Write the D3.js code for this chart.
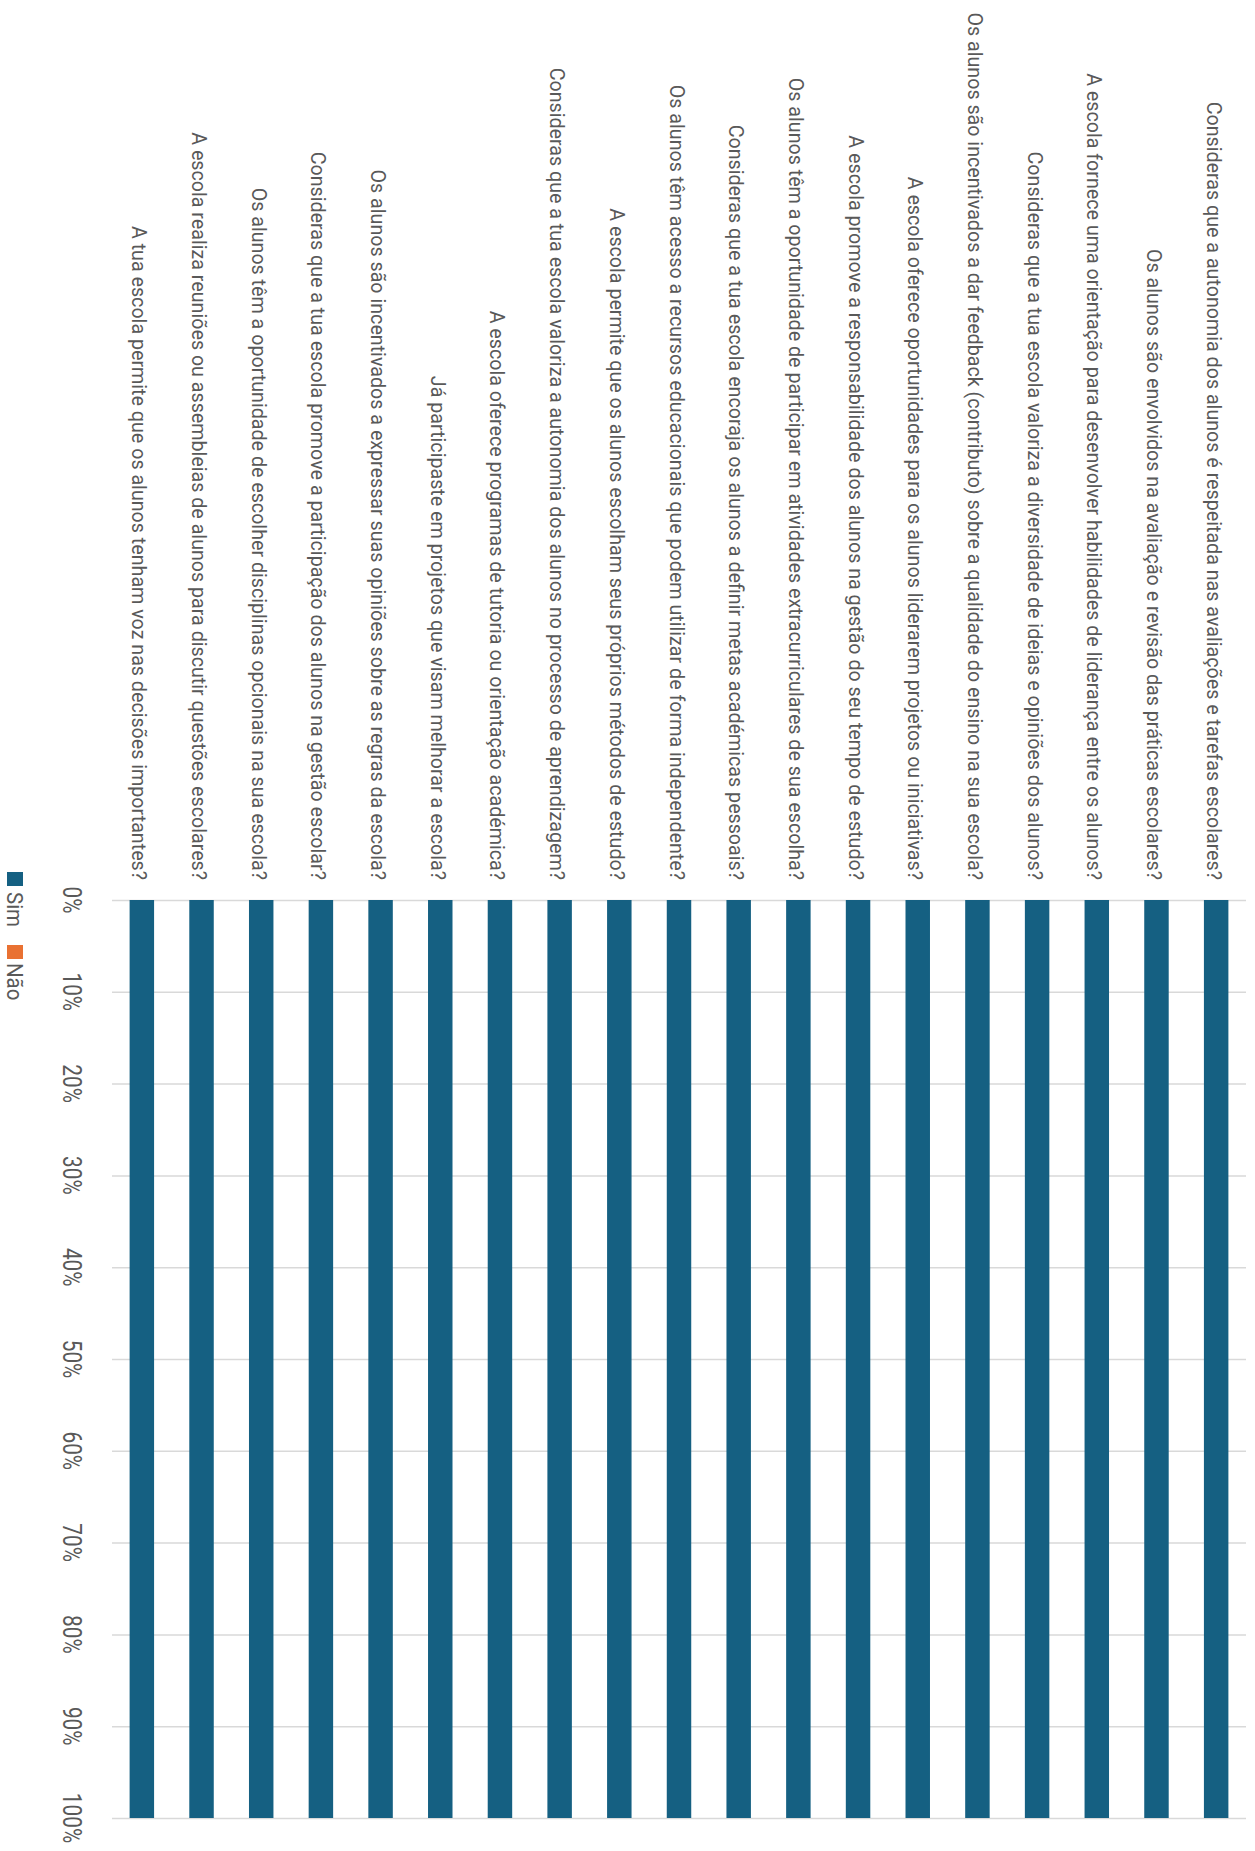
<!DOCTYPE html>
<html>
<head>
<meta charset="utf-8">
<script src="https://cdn.jsdelivr.net/npm/d3@7"></script>
<style>
  html, body { margin: 0; padding: 0; background: #ffffff; }
  svg { display: block; }
  text { font-family: Roboto, "Noto Sans", sans-serif; fill: #595959; }
</style>
</head>
<body>
<svg id="chart" width="1255" height="1851"></svg>
<script>
// Survey questions (top to bottom in the horizontal layout)
const categories = [
  "Consideras que a autonomia dos alunos é respeitada nas avaliações e tarefas escolares?",
  "Os alunos são envolvidos na avaliação e revisão das práticas escolares?",
  "A escola fornece uma orientação para desenvolver habilidades de liderança entre os alunos?",
  "Consideras que a tua escola valoriza a diversidade de ideias e opiniões dos alunos?",
  "Os alunos são incentivados a dar feedback (contributo) sobre a qualidade do ensino na sua escola?",
  "A escola oferece oportunidades para os alunos liderarem projetos ou iniciativas?",
  "A escola promove a responsabilidade dos alunos na gestão do seu tempo de estudo?",
  "Os alunos têm a oportunidade de participar em atividades extracurriculares de sua escolha?",
  "Consideras que a tua escola encoraja os alunos a definir metas académicas pessoais?",
  "Os alunos têm acesso a recursos educacionais que podem utilizar de forma independente?",
  "A escola permite que os alunos escolham seus próprios métodos de estudo?",
  "Consideras que a tua escola valoriza a autonomia dos alunos no processo de aprendizagem?",
  "A escola oferece programas de tutoria ou orientação académica?",
  "Já participaste em projetos que visam melhorar a escola?",
  "Os alunos são incentivados a expressar suas opiniões sobre as regras da escola?",
  "Consideras que a tua escola promove a participação dos alunos na gestão escolar?",
  "Os alunos têm a oportunidade de escolher disciplinas opcionais na sua escola?",
  "A escola realiza reuniões ou assembleias de alunos para discutir questões escolares?",
  "A tua escola permite que os alunos tenham voz nas decisões importantes?"
];

// Share of answers per question (percent)
const simValues = [100, 100, 100, 100, 100, 100, 100, 100, 100, 100, 100, 100, 100, 100, 100, 100, 100, 100, 100];
const naoValues = [0, 0, 0, 0, 0, 0, 0, 0, 0, 0, 0, 0, 0, 0, 0, 0, 0, 0, 0];

const seriesNames = ["Sim", "Não"];
const seriesColors = ["#156082", "#E97132"];
const tickValues = [0, 10, 20, 30, 40, 50, 60, 70, 80, 90, 100];
const tickLabels = ["0%", "10%", "20%", "30%", "40%", "50%", "60%", "70%", "80%", "90%", "100%"];

const rows = categories.map((c, i) => ({ cat: c, "Sim": simValues[i], "Não": naoValues[i] }));

const svg = d3.select("#chart");
const pageW = 1255;

// The chart is laid out as a horizontal stacked bar chart, then turned a quarter
// turn clockwise so the questions read from top to bottom.
const g = svg.append("g").attr("transform", `translate(${pageW},0) rotate(90)`);

const plotTop = 9, plotBottom = 1143;
const x = d3.scaleLinear().domain([0, 100]).range([900, 1818]);
const y = d3.scaleBand().domain(categories).range([plotTop, plotBottom])
  .paddingInner(0.59).paddingOuter(0.295);
const color = d3.scaleOrdinal().domain(seriesNames).range(seriesColors);

// Gridlines
const grid = g.append("g")
  .attr("transform", `translate(0,${plotBottom})`)
  .call(d3.axisBottom(x).tickValues(tickValues).tickSize(-(plotBottom - plotTop)).tickFormat(""));
grid.select(".domain").remove();
grid.selectAll(".tick line").attr("stroke", "#d9d9d9").attr("stroke-width", 1.5);

// Value axis labels
const tickG = g.append("g");
tickG.selectAll("text").data(tickValues).join("text")
  .attr("transform", (d) => `translate(${x(d)},${1192}) scale(0.8,1)`)
  .attr("text-anchor", "middle")
  .attr("font-size", 26)
  .text((d, i) => tickLabels[i]);

// Stacked bars
const stacked = d3.stack().keys(seriesNames)(rows);
g.append("g").selectAll("g").data(stacked).join("g")
  .attr("fill", (s) => color(s.key))
  .selectAll("rect").data((s) => s).join("rect")
  .attr("x", (d) => x(d[0]))
  .attr("width", (d) => Math.max(0, x(d[1]) - x(d[0])))
  .attr("y", (d) => y(d.data.cat))
  .attr("height", y.bandwidth());

// Question labels
g.append("g").selectAll("text").data(categories).join("text")
  .attr("transform", (d) => `translate(880,${y(d) + y.bandwidth() / 2 + 9.5}) scale(0.96,1)`)
  .attr("text-anchor", "end")
  .attr("font-size", 20.5)
  .text((d) => d);

// Legend
const legendPos = [{ key: "Sim", rx: 872, tx: 892 }, { key: "Não", rx: 945, tx: 963 }];
const lg = g.append("g");
legendPos.forEach((p) => {
  lg.append("rect").attr("x", p.rx).attr("y", 1232).attr("width", 14).attr("height", 16)
    .attr("fill", color(p.key));
  lg.append("text")
    .attr("transform", `translate(${p.tx},1248) scale(0.93,1)`)
    .attr("font-size", 22)
    .text(p.key);
});
</script>
</body>
</html>
